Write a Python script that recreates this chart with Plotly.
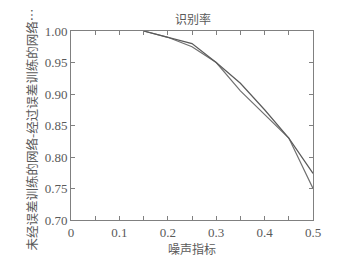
import plotly.graph_objects as go

noise = [0.15, 0.2, 0.25, 0.3, 0.35, 0.4, 0.45, 0.5]
untrained = [1.0, 0.99, 0.975, 0.95, 0.905, 0.868, 0.83, 0.75]
trained = [1.0, 0.99, 0.98, 0.95, 0.917, 0.875, 0.83, 0.774]

title = "识别率"
xlabel = "噪声指标"
ylabel = "未经误差训练的网络-经过误差训练的网络…"

serif = "Liberation Serif, DejaVu Serif, serif"
cjk = "Noto Sans CJK SC"
txt = "#5a5a5a"

W, H = 347, 249  # page body has an 8px margin

fig = go.Figure()
fig.add_trace(go.Scatter(x=noise, y=untrained, mode="lines",
                         line=dict(color="#707070", width=1.2), name="未经误差训练的网络"))
fig.add_trace(go.Scatter(x=noise, y=trained, mode="lines",
                         line=dict(color="#5a5a5a", width=1.2), name="经过误差训练的网络"))

axis_common = dict(showline=True, linecolor="#808080", linewidth=1, mirror="allticks",
                   ticks="inside", ticklen=4, tickcolor="#808080", showgrid=False,
                   zeroline=False, automargin=False,
                   tickfont=dict(family=serif, size=13, color=txt))

fig.update_layout(
    width=W, height=H,
    margin=dict(l=63, r=42, t=23, b=37),
    paper_bgcolor="white", plot_bgcolor="white",
    showlegend=False,
    title=dict(text=title, x=185 / W, xref="container", xanchor="center",
               y=1 - 12 / H, yref="container", yanchor="middle",
               font=dict(family=cjk, size=12, color=txt)),
    xaxis=dict(range=[0, 0.5], tickmode="array",
               tickvals=[0, 0.05, 0.1, 0.15, 0.2, 0.25, 0.3, 0.35, 0.4, 0.45, 0.5],
               ticktext=["0", "", "0.1", "", "0.2", "", "0.3", "", "0.4", "", "0.5"],
               **axis_common),
    yaxis=dict(range=[0.7, 1.0], dtick=0.05, tickformat=".2f", **axis_common),
    annotations=[
        dict(text=xlabel, xref="paper", yref="paper", x=0.5, y=0, yshift=-28,
             xanchor="center", yanchor="middle", showarrow=False, borderpad=0,
             font=dict(family=cjk, size=12, color=txt)),
        dict(text=ylabel, xref="paper", yref="paper", x=0, y=0.5, xshift=-40, yshift=-4,
             xanchor="center", yanchor="middle", textangle=-90, showarrow=False,
             font=dict(family=cjk, size=12.5, color=txt)),
    ],
)

fig.write_html("out.html")
